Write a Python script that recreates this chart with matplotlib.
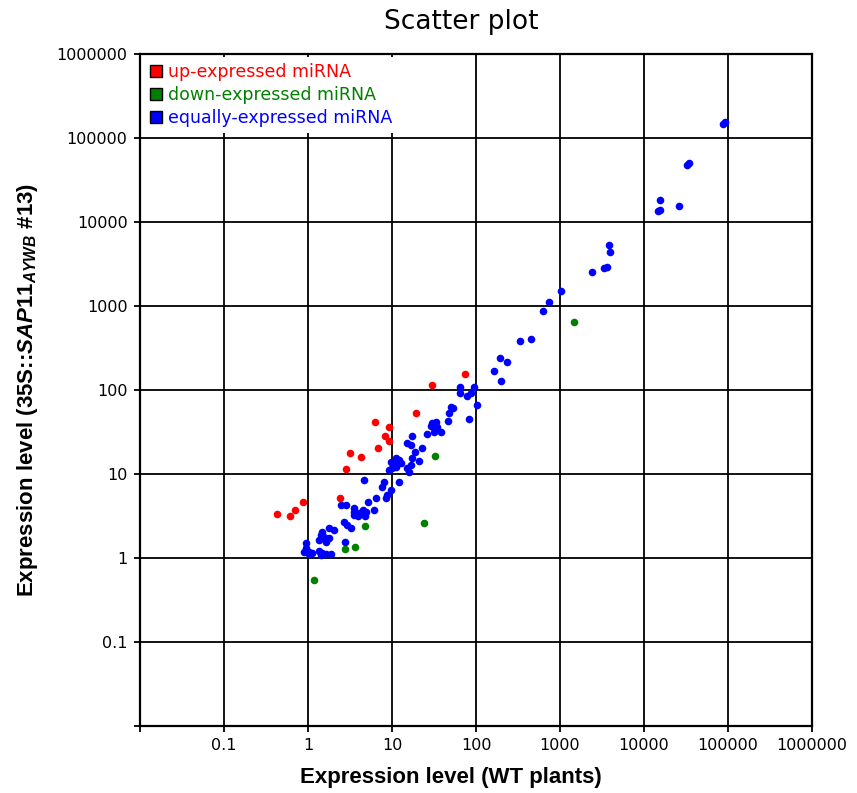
import matplotlib

matplotlib.use("Agg")

import matplotlib.pyplot as plt
from matplotlib.lines import Line2D
from matplotlib.ticker import FixedFormatter, FixedLocator, NullLocator

# miRNA expression: WT plants (x) vs 35S::SAP11 line (y)
up_wt = [74, 29.9, 19.3, 9.2, 8.3, 9.2, 6.8, 6.3, 3.16, 4.28, 2.83, 2.40,
         0.87, 0.70, 0.61, 0.43]
up_sap = [155, 115, 53.2, 36.3, 28.3, 24.7, 20.4, 41.6, 17.8, 15.9, 11.5, 5.18,
          4.64, 3.73, 3.16, 3.34]

down_wt = [1468, 32.5, 24.0, 4.77, 3.63, 2.76, 1.18]
down_sap = [645, 16.4, 2.61, 2.40, 1.35, 1.28, 0.547]

equal_wt = [87100, 92100, 32500, 34300, 15500, 14700, 15500, 26100, 3830, 3940,
            3630, 3340, 2410, 1030, 740, 628, 452, 334, 193, 234,
            164, 199, 64.5, 94.6, 64.5, 78.1, 87.2, 103, 50.4, 53.2,
            47.7, 46.4, 82.5, 33.4, 29.9, 34.3, 29.1, 38.3, 31.6, 26.1,
            17.3, 15.1, 16.8, 22.8, 18.8, 17.3, 16.8, 15.1, 15.9, 11.2,
            12.1, 9.73, 10.6, 12.8, 11.2, 10.0, 9.21, 21.0, 4.64, 8.03,
            7.60, 12.1, 9.73, 8.72, 8.48, 6.45, 5.18, 6.11, 4.90, 4.05,
            3.53, 2.83, 2.47, 3.53, 4.52, 4.77, 3.53, 3.94, 2.68, 2.91,
            3.25, 2.04, 1.78, 1.47, 1.43, 1.55, 1.78, 1.64, 1.35, 2.76,
            0.95, 0.90, 1.03, 1.03, 1.12, 1.35, 1.47, 1.64, 1.88, 1.43,
            0.95]
equal_sap = [146900, 155000, 47700, 50400, 18300, 13500, 13900, 15500, 5320, 4400,
             2910, 2830, 2540, 1510, 1120, 872, 405, 383, 240, 216,
             168, 128, 109, 109, 92.1, 84.8, 92.1, 66.3, 62.8, 61.1,
             53.2, 42.8, 45.2, 41.6, 40.5, 36.3, 37.3, 31.6, 31.6, 29.9,
             28.3, 23.4, 22.1, 20.4, 18.3, 15.5, 12.8, 11.8, 10.6, 15.5,
             14.7, 13.9, 13.5, 13.5, 12.1, 11.8, 11.2, 14.3, 8.48, 8.03,
             7.00, 8.03, 6.45, 5.62, 5.18, 5.18, 4.64, 3.73, 3.53, 3.43,
             3.53, 4.28, 4.28, 3.94, 3.73, 3.16, 3.25, 3.16, 2.68, 2.47,
             2.28, 2.15, 2.28, 2.04, 1.88, 1.78, 1.73, 1.55, 1.64, 1.55,
             1.51, 1.18, 1.18, 1.12, 1.15, 1.21, 1.15, 1.12, 1.12, 1.09,
             1.32]

decades = [0.01, 0.1, 1, 10, 100, 1000, 10000, 100000, 1000000]
decade_labels = ["", "0.1", "1", "10", "100", "1000", "10000", "100000", "1000000"]

plt.rcParams["mathtext.fontset"] = "custom"
plt.rcParams["mathtext.rm"] = "Liberation Sans:bold"
plt.rcParams["mathtext.bf"] = "Liberation Sans:bold"
plt.rcParams["mathtext.it"] = "Liberation Sans:italic:bold"

fig = plt.figure(figsize=(8.57, 7.93), dpi=100)
ax = fig.add_axes([0.1634, 0.0845, 0.7841, 0.8474])

ax.set_xscale("log")
ax.set_yscale("log")
ax.set_xlim(0.01, 1000000)
ax.set_ylim(0.01, 1000000)

for axis in (ax.xaxis, ax.yaxis):
    axis.set_major_locator(FixedLocator(decades))
    axis.set_major_formatter(FixedFormatter(decade_labels))
    axis.set_minor_locator(NullLocator())

ax.grid(True, color="black", linewidth=1.3)
ax.set_axisbelow(True)
for spine in ax.spines.values():
    spine.set_linewidth(1.6)
ax.tick_params(direction="out", length=4, width=1.3, labelsize=11.5, pad=5)

ax.scatter(equal_wt, equal_sap, s=30, color="#0000ff", linewidths=0, zorder=3)
ax.scatter(up_wt, up_sap, s=30, color="#ff0000", linewidths=0, zorder=3)
ax.scatter(down_wt, down_sap, s=30, color="#008000", linewidths=0, zorder=3)

handles = [
    Line2D([], [], marker="s", linestyle="none", markersize=8,
           markerfacecolor=c, markeredgecolor="black", markeredgewidth=1)
    for c in ("#ff0000", "#008000", "#0000ff")
]
ax.legend(
    handles,
    ["up-expressed miRNA", "down-expressed miRNA", "equally-expressed miRNA"],
    loc="upper left",
    fontsize=12.5,
    labelcolor="markerfacecolor",
    frameon=True,
    fancybox=False,
    facecolor="white",
    edgecolor="none",
    framealpha=1,
    borderaxespad=0.15,
    borderpad=0.35,
    handlelength=0.8,
    handletextpad=0.3,
    labelspacing=0.3,
)

ax.set_xlabel("Expression level (WT plants)", fontsize=16,
              fontweight="bold", family="Liberation Sans", labelpad=10)
ax.xaxis.label.set_x(0.463)
ax.set_ylabel(r"Expression level (35S::$\mathit{SAP11}_{\mathit{AYWB}}$ #13)",
              fontsize=16, fontweight="bold", family="Liberation Sans",
              labelpad=12)

fig.text(0.538, 0.972, "Scatter plot", fontsize=19, ha="center", va="center")

fig.savefig("out.png", dpi=100)
